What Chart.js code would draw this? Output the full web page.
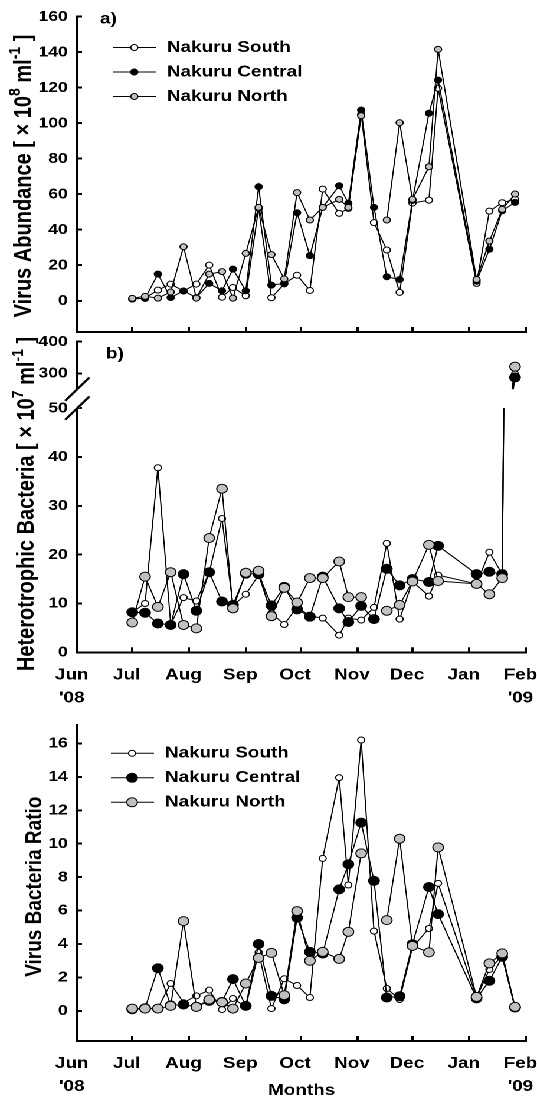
<!DOCTYPE html>
<html>
<head>
<meta charset="utf-8">
<script src="https://cdn.jsdelivr.net/npm/chart.js@4.4.1/dist/chart.umd.min.js"></script>
<style>
  html, body { margin: 0; padding: 0; background: #fff; overflow: hidden; }
  /* the reference figure is stretched sideways, so the charts are drawn narrower and widened */
  #sheet { position: absolute; left: 0; top: 0; width: 455px; height: 1100px; transform: scaleX(1.1802); transform-origin: 0 0; }
  .panel { position: absolute; left: 0; width: 455px; }
</style>
</head>
<body>
<div id="sheet">
  <div class="panel" style="top:0;height:340px"><canvas id="virusChart"></canvas></div>
  <div class="panel" style="top:330px;height:380px"><canvas id="bacteriaChart"></canvas></div>
  <div class="panel" style="top:705px;height:395px"><canvas id="ratioChart"></canvas></div>
</div>
<script>
// sampling dates, as days after 1 June 2008
const sampleDays = [30, 37, 44, 51, 58, 65, 72, 79, 85, 92, 99, 106, 113, 120, 127, 134, 143, 148, 155, 162, 169, 176, 183, 192, 197, 218, 225, 232, 239];
const monthStarts = [0, 30, 61, 92, 122, 153, 183, 214, 245];
const monthLabels = [['Jun', "'08"], 'Jul', 'Aug', 'Sep', 'Oct', 'Nov', 'Dec', 'Jan', ['Feb', "'09"]];
const seriesNames = ['Nakuru South', 'Nakuru Central', 'Nakuru North'];

// a) virus abundance (x 10^8 per ml)
const virusSouth   = [1, 1.5, 6, 9.4, 5.5, 9.4, 20.1, 2, 7.5, 2.8, 52, 1.7, 9.5, 14.4, 5.8, 62.9, 49.2, 52, 105, 44, 28.6, 4.7, 55, 56.7, 119.7, 9.8, 50.5, 55.2, 57.1];
const virusCentral = [1, 1.3, 15, 1.8, 5.5, 1.8, 9.8, 5.6, 17.8, 5.6, 64.2, 8.8, 9.8, 49.6, 25.4, 52.6, 64.8, 54.9, 107.4, 52.6, 13.5, 12, 56.5, 105.6, 124.3, 11, 29, 50.7, 55.4];
const virusNorth   = [1.35, 2.5, 1.5, 4.9, 30.4, 1.5, 15, 16.4, 1.5, 26.7, 52.6, 26, 12.3, 60.9, 45.5, 52.6, 57.1, 52.6, 104.2, null, 45.5, 100.3, 57.1, 75.5, 141.6, 12, 33.6, 51.5, 60.1];
const virusTicks = [0, 20, 40, 60, 80, 100, 120, 140, 160];

// b) heterotrophic bacteria (x 10^7 per ml)
const bactSouth   = [8.2, 10, 37.8, 5.7, 11.2, 10.5, 16.3, 27.4, 9.5, 11.9, 15.8, 8, 5.7, 9.3, 7.4, 7, 3.5, 7, 6.6, 9.2, 22.3, 6.8, 14.5, 11.5, 15.8, 14, 20.5, 16, 298];
const bactCentral = [8.2, 8.1, 5.9, 5.6, 16, 8.5, 16.4, 10.4, 9.7, 16.1, 16, 9.6, 13.4, 8.8, 7.3, 15.5, 9, 6.2, 9.5, 6.8, 17.1, 13.7, 15, 14.4, 21.8, 16, 16.5, 16, 287];
const bactNorth   = [6.1, 15.5, 9.3, 16.4, 5.6, 4.9, 23.4, 33.5, 9, 16.3, 16.7, 7.4, 13.2, 10.2, 15.2, 15.2, 18.6, 11.3, 11.3, null, 8.5, 9.7, 14.5, 22, 14.6, 14, 11.9, 15.2, 321];
const bactTicks = [0, 10, 20, 30, 40, 50, 300, 400];

// c) virus to bacteria ratio
const ratioSouth   = [0.1, 0.15, 0.16, 1.64, 0.49, 0.9, 1.24, 0.08, 0.74, 0.24, 3.5, 0.14, 1.92, 1.52, 0.8, 9.12, 13.95, 7.53, 16.2, 4.77, 1.34, 0.68, 3.8, 4.93, 7.63, 0.8, 2.48, 3.3, 0.19];
const ratioCentral = [0.1, 0.16, 2.55, 0.33, 0.38, 0.25, 0.6, 0.54, 1.9, 0.3, 4, 0.9, 0.7, 5.57, 3.53, 3.43, 7.27, 8.77, 11.26, 7.78, 0.8, 0.88, 3.99, 7.41, 5.79, 0.75, 1.8, 3.23, 0.2];
const ratioNorth   = [0.14, 0.14, 0.14, 0.3, 5.37, 0.24, 0.68, 0.52, 0.14, 1.64, 3.17, 3.47, 0.94, 5.97, 3, 3.53, 3.11, 4.73, 9.42, null, 5.43, 10.3, 3.89, 3.5, 9.78, 0.84, 2.84, 3.44, 0.24];
const ratioTicks = [0, 2, 4, 6, 8, 10, 12, 14, 16];

const seriesFill = ['#ffffff', '#000000', '#c0c0c0'];

Chart.defaults.font.family = '"Liberation Sans", Arial, sans-serif';
Chart.defaults.font.weight = 'bold';
Chart.defaults.color = '#000';

// broken y axis for panel b: 0-50 below the break, 250-400 above it
const breakLow = 50, breakHigh = 250;
const spanLow = 244, spanGap = 19, spanHigh = 47.4;
class BrokenScale extends Chart.LinearScale {
  span(v) {
    if (v <= breakLow) return v / breakLow * spanLow;
    if (v < breakHigh) return spanLow + (v - breakLow) / (breakHigh - breakLow) * spanGap;
    return spanLow + spanGap + (v - breakHigh) / (this.max - breakHigh) * spanHigh;
  }
  getPixelForValue(v) {
    return this.getPixelForDecimal(this.span(v) / (spanLow + spanGap + spanHigh));
  }
  getValueForPixel(p) {
    const s = this.getDecimalForPixel(p) * (spanLow + spanGap + spanHigh);
    if (s <= spanLow) return s / spanLow * breakLow;
    if (s < spanLow + spanGap) return breakLow + (s - spanLow) / spanGap * (breakHigh - breakLow);
    return breakHigh + (s - spanLow - spanGap) / spanHigh * (this.max - breakHigh);
  }
}
BrokenScale.id = 'broken';
Chart.register(BrokenScale);

function crossesBreak(a, b) {
  if (a == null || b == null) return false;
  return (a <= breakLow && b >= breakHigh) || (b <= breakLow && a >= breakHigh);
}

// texts, legend and axis break drawn on top of each panel
const panelDecor = {
  id: 'panelDecor',
  beforeDatasetsDraw(chart, args, opts) {
    if (!opts.axisBreak) return;
    const ctx = chart.ctx, xs = chart.scales.x, ys = chart.scales.y;
    ctx.save();
    ctx.strokeStyle = '#000';
    ctx.lineWidth = 1;
    chart.data.datasets.forEach(ds => {
      for (let i = 1; i < ds.data.length; i++) {
        const a = ds.data[i - 1], b = ds.data[i];
        if (!crossesBreak(a.y, b.y)) continue;
        const at = v => {
          const t = (v - a.y) / (b.y - a.y);
          return [xs.getPixelForValue(a.x + t * (b.x - a.x)), ys.getPixelForValue(v)];
        };
        const lo = a.y < b.y ? a : b, hi = a.y < b.y ? b : a;
        const pLo = at(breakLow), pHi = at(breakHigh);
        ctx.beginPath();
        ctx.moveTo(xs.getPixelForValue(lo.x), ys.getPixelForValue(lo.y));
        ctx.lineTo(pLo[0], pLo[1]);
        ctx.moveTo(pHi[0], pHi[1]);
        ctx.lineTo(xs.getPixelForValue(hi.x), ys.getPixelForValue(hi.y));
        ctx.stroke();
      }
    });
    ctx.restore();
  },
  afterDraw(chart, args, opts) {
    const ctx = chart.ctx;
    ctx.save();
    ctx.fillStyle = '#000';
    ctx.strokeStyle = '#000';
    if (opts.tag) {
      ctx.font = 'bold 16px "Liberation Sans"';
      ctx.textAlign = 'left';
      ctx.textBaseline = 'middle';
      ctx.fillText(opts.tag.text, opts.tag.x, opts.tag.y);
    }
    if (opts.yTitle) {
      const t = opts.yTitle;
      const base = 'bold ' + t.size + 'px "Liberation Sans"';
      const sup = 'bold ' + Math.round(t.size * 0.68) + 'px "Liberation Sans"';
      let total = 0;
      t.parts.forEach(p => { ctx.font = p.sup ? sup : base; total += ctx.measureText(p.text).width; });
      ctx.translate(t.x, t.y);
      ctx.rotate(-Math.PI / 2);
      ctx.textAlign = 'left';
      ctx.textBaseline = 'middle';
      let x = -total / 2;
      t.parts.forEach(p => {
        ctx.font = p.sup ? sup : base;
        ctx.fillText(p.text, x, p.sup ? -t.size * 0.36 : 0);
        x += ctx.measureText(p.text).width;
      });
      ctx.setTransform(1, 0, 0, 1, 0, 0);
      ctx.scale(chart.currentDevicePixelRatio, chart.currentDevicePixelRatio);
    }
    if (opts.legend) {
      const L = opts.legend;
      chart.data.datasets.forEach((ds, i) => {
        const y = L.y + i * L.step;
        ctx.lineWidth = 1;
        ctx.beginPath();
        ctx.moveTo(L.x1, y);
        ctx.lineTo(L.x2, y);
        ctx.stroke();
        ctx.beginPath();
        ctx.arc(L.mx, y, ds.pointRadius, 0, Math.PI * 2);
        ctx.fillStyle = ds.pointBackgroundColor;
        ctx.fill();
        ctx.stroke();
        ctx.fillStyle = '#000';
        ctx.font = 'bold 16px "Liberation Sans"';
        ctx.textAlign = 'left';
        ctx.textBaseline = 'middle';
        ctx.fillText(ds.label, L.tx, y);
      });
    }
    if (opts.axisBreak) {
      const ys = chart.scales.y, left = chart.chartArea.left;
      const yHi = ys.getPixelForValue(breakHigh), yLo = ys.getPixelForValue(breakLow);
      ctx.fillStyle = '#fff';
      ctx.fillRect(left - 2, yHi, 4, yLo - yHi);
      ctx.lineWidth = 2;
      ctx.beginPath();
      [yHi, yLo].forEach(y => { ctx.moveTo(left - 10.3, y + 11.7); ctx.lineTo(left + 10.3, y - 11.7); });
      ctx.stroke();
    }
    ctx.restore();
  }
};

function lineSets(lists, radii, extra) {
  return lists.map((vals, k) => Object.assign({
    label: seriesNames[k],
    data: sampleDays.map((d, i) => ({x: d, y: vals[i]})),
    borderColor: '#000',
    borderWidth: 1,
    pointBackgroundColor: seriesFill[k],
    pointBorderColor: '#000',
    pointBorderWidth: 1,
    pointRadius: radii[k],
    order: 3 - k
  }, extra || {}));
}

function xAxis(labelled, height, title) {
  return {
    type: 'linear', min: 0, max: 245,
    afterBuildTicks: s => { s.ticks = monthStarts.map(v => ({value: v})); },
    afterFit: s => { s.height = height; s.paddingLeft = 0; s.paddingRight = 0; },
    border: {color: '#000', width: 2},
    grid: {drawOnChartArea: false, color: '#000', lineWidth: 2, tickLength: -5},
    ticks: {
      display: labelled, autoSkip: false, maxRotation: 0, padding: 16, labelOffset: -4.7,
      font: {size: 16, lineHeight: 1.45},
      callback: (v, i) => monthLabels[i]
    },
    title: {display: !!title, text: title || '', font: {size: 16}, padding: 0}
  };
}

function yAxis(type, min, max, tickValues, fontSize) {
  return {
    type: type, min: min, max: max,
    afterBuildTicks: s => { s.ticks = tickValues.map(v => ({value: v})); },
    afterFit: s => { s.width = 65.5; s.paddingTop = 0; s.paddingBottom = 0; },
    border: {color: '#000', width: 1.7},
    grid: {drawOnChartArea: false, color: '#000', lineWidth: 2, tickLength: -4},
    ticks: {padding: 12, font: {size: fontSize}, callback: v => String(v)}
  };
}

function makeChart(id, datasets, scales, padding, decor) {
  return new Chart(document.getElementById(id), {
    type: 'line',
    data: {datasets: datasets},
    options: {
      responsive: true,
      maintainAspectRatio: false,
      devicePixelRatio: 2,
      animation: false,
      layout: {padding: padding},
      scales: scales,
      plugins: {legend: {display: false}, tooltip: {enabled: false}, panelDecor: decor}
    },
    plugins: [panelDecor]
  });
}

let virusChart = makeChart('virusChart',
  lineSets([virusSouth, virusCentral, virusNorth], [3, 3, 3]),
  {x: xAxis(false, 8), y: yAxis('linear', -17.6, 160, virusTicks, 15)},
  {left: 0, right: 9.3, top: 16.7, bottom: 0},
  {
    tag: {text: 'a)', x: 84.7, y: 19},
    yTitle: {x: 20.3, y: 176, size: 20, parts: [{text: 'Virus Abundance [ \u00d7 10'}, {text: '8', sup: true}, {text: ' ml'}, {text: '-1', sup: true}, {text: ' ]'}]},
    legend: {x1: 95.8, x2: 132.2, mx: 113.8, tx: 141.5, y: 47.5, step: 24.5}
  });

let bacteriaChart = makeChart('bacteriaChart',
  lineSets([bactSouth, bactCentral, bactNorth], [3, 4.5, 4.5], {
    segment: {
      borderColor: c => {
        const d = c.chart.data.datasets[c.datasetIndex].data;
        return crossesBreak(d[c.p0DataIndex].y, d[c.p1DataIndex].y) ? 'rgba(0,0,0,0)' : undefined;
      }
    }
  }),
  {x: xAxis(true, 57.7), y: yAxis('broken', 0, 400, bactTicks, 15)},
  {left: 0, right: 9.3, top: 11.7, bottom: 0},
  {
    tag: {text: 'b)', x: 89.8, y: 24},
    yTitle: {x: 22.9, y: 174, size: 20, parts: [{text: 'Heterotrophic Bacteria [ \u00d7 10'}, {text: '7', sup: true}, {text: ' ml'}, {text: '-1', sup: true}, {text: ' ]'}]},
    axisBreak: true
  });

let ratioChart = makeChart('ratioChart',
  lineSets([ratioSouth, ratioCentral, ratioNorth], [3, 4.5, 4.5]),
  {x: xAxis(true, 59, 'Months'), y: yAxis('linear', -1.8, 17.1, ratioTicks, 15)},
  {left: 0, right: 9.3, top: 20, bottom: 0},
  {
    yTitle: {x: 29.7, y: 181.7, size: 19, parts: [{text: 'Virus Bacteria Ratio'}]},
    legend: {x1: 94, x2: 130.5, mx: 111.9, tx: 139.8, y: 48.3, step: 24.5}
  });
</script>
</body>
</html>
